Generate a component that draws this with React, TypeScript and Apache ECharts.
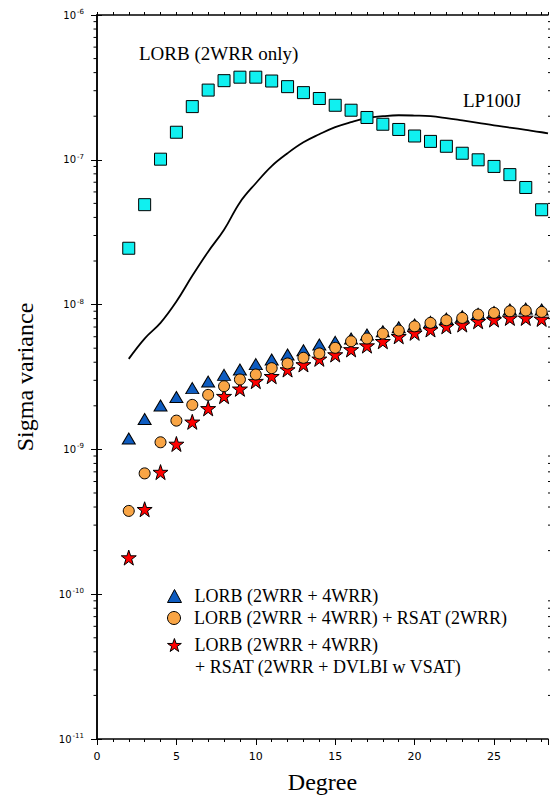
import React, { useEffect, useRef } from 'react';
import * as echarts from 'echarts';

// ---- data ----
const degrees = [2, 3, 4, 5, 6, 7, 8, 9, 10, 11, 12, 13, 14, 15, 16, 17, 18, 19, 20, 21, 22, 23, 24, 25, 26, 27, 28];

const lorb2wrrOnly = [2.45e-8, 4.9e-8, 1.01e-7, 1.55e-7, 2.33e-7, 3.03e-7, 3.52e-7, 3.72e-7, 3.72e-7, 3.5e-7, 3.2e-7, 2.91e-7, 2.65e-7, 2.38e-7, 2.2e-7, 1.96e-7, 1.76e-7, 1.62e-7, 1.46e-7, 1.34e-7, 1.24e-7, 1.11e-7, 1.0e-7, 9.0e-8, 7.9e-8, 6.44e-8, 4.52e-8];

const lorb2wrr4wrr = [1.19e-9, 1.62e-9, 2.01e-9, 2.3e-9, 2.65e-9, 2.94e-9, 3.27e-9, 3.56e-9, 3.88e-9, 4.18e-9, 4.52e-9, 4.84e-9, 5.3e-9, 5.53e-9, 5.83e-9, 6.21e-9, 6.55e-9, 6.98e-9, 7.28e-9, 7.6e-9, 8.0e-9, 8.3e-9, 8.63e-9, 8.9e-9, 9.24e-9, 9.38e-9, 9.24e-9];

const lorbRsat2wrr = [3.76e-10, 6.83e-10, 1.12e-9, 1.58e-9, 2.03e-9, 2.38e-9, 2.73e-9, 3.04e-9, 3.29e-9, 3.64e-9, 3.92e-9, 4.29e-9, 4.6e-9, 5.03e-9, 5.58e-9, 5.83e-9, 6.31e-9, 6.62e-9, 7.08e-9, 7.48e-9, 7.8e-9, 8.09e-9, 8.53e-9, 8.77e-9, 8.99e-9, 9.09e-9, 8.9e-9];

const lorbRsatDvlbi = [1.79e-10, 3.86e-10, 6.97e-10, 1.09e-9, 1.55e-9, 1.92e-9, 2.33e-9, 2.62e-9, 2.96e-9, 3.2e-9, 3.56e-9, 3.86e-9, 4.22e-9, 4.52e-9, 4.9e-9, 5.21e-9, 5.58e-9, 6.04e-9, 6.38e-9, 6.73e-9, 7.08e-9, 7.28e-9, 7.67e-9, 7.88e-9, 8.09e-9, 8.09e-9, 7.96e-9];

const lp100jDegrees = [2, 3, 4, 5, 6, 7, 8, 9, 10, 11, 12, 13, 14, 15, 16, 17, 18, 19, 20, 21, 22, 23, 24, 25, 26, 27, 28, 28.4];
const lp100j = [4.22e-9, 5.83e-9, 7.48e-9, 1.05e-8, 1.58e-8, 2.32e-8, 3.29e-8, 5.08e-8, 6.89e-8, 9.05e-8, 1.11e-7, 1.32e-7, 1.5e-7, 1.68e-7, 1.82e-7, 1.94e-7, 2.0e-7, 2.03e-7, 2.02e-7, 2.0e-7, 1.94e-7, 1.87e-7, 1.8e-7, 1.73e-7, 1.67e-7, 1.61e-7, 1.55e-7, 1.52e-7];

const X_MIN = 0;
const X_MAX = 28.4;
const Y_MIN = 1e-11;
const Y_MAX = 1e-6;
const decadeExponents = [-11, -10, -9, -8, -7];
const logMinorMultipliers = [2, 3, 4, 5, 6, 7, 8, 9];

const NAME_TRI = 'LORB (2WRR + 4WRR)';
const NAME_CIR = 'LORB (2WRR + 4WRR) + RSAT (2WRR)';
const NAME_STAR = 'LORB (2WRR + 4WRR) + RSAT (2WRR + DVLBI w VSAT)';

const STAR =
  'path://M50,2 L61.8,36.2 L97.6,36.2 L68.6,57.4 L79.4,91.6 L50,70.4 L20.6,91.6 L31.4,57.4 L2.4,36.2 L38.2,36.2 Z';

const SERIF = '"Liberation Serif", "Times New Roman", serif';
const SANS = '"DejaVu Sans", sans-serif';

const pair = (xs: number[], ys: number[]) => xs.map((x, i) => [x, ys[i]]);

export default function App() {
  const ref = useRef<HTMLDivElement>(null);

  useEffect(() => {
    if (!ref.current) return;
    const chart = echarts.init(ref.current, undefined, { renderer: 'svg' });

    const minorTickData: number[][] = [];
    decadeExponents.forEach((e) => {
      logMinorMultipliers.forEach((m) => {
        minorTickData.push([X_MIN, m * Math.pow(10, e)]);
      });
    });

    const legendText = {
      fontFamily: SERIF,
      fontSize: 18,
      color: '#000',
      padding: [0, 0, 0, 8],
    };
    const legendCommon = {
      orient: 'vertical',
      itemWidth: 14,
      itemHeight: 13,
      itemStyle: { borderColor: '#000', borderWidth: 1 },
      textStyle: legendText,
      selectedMode: false,
    };

    const option: any = {
      animation: false,
      backgroundColor: '#fff',
      grid: { left: 97, top: 15, right: 2, bottom: 59, containLabel: false, outerBoundsMode: 'none' },
      xAxis: [
        {
          type: 'value',
          position: 'bottom',
          min: X_MIN,
          max: X_MAX,
          interval: 1,
          name: 'Degree',
          nameLocation: 'middle',
          nameGap: 31,
          nameMoveOverlap: false,
          nameTextStyle: { fontFamily: SERIF, fontSize: 24, color: '#000' },
          axisLine: { show: true, lineStyle: { color: '#000', width: 1.5 } },
          axisTick: { show: true, inside: false, length: 3, lineStyle: { color: '#000', width: 1 } },
          axisLabel: {
            interval: 0,
            margin: 12,
            fontFamily: SANS,
            fontSize: 11,
            color: '#000',
            formatter: (v: number) => (Math.abs(v % 5) < 1e-9 ? String(v) : ''),
          },
          splitLine: { show: false },
        },
        {
          type: 'value',
          position: 'top',
          min: X_MIN,
          max: X_MAX,
          interval: 1,
          axisLine: { show: true, lineStyle: { color: '#000', width: 1.5 } },
          axisTick: { show: true, inside: false, length: 3, lineStyle: { color: '#000', width: 1 } },
          axisLabel: { show: false },
          splitLine: { show: false },
        },
        {
          type: 'value',
          position: 'bottom',
          min: X_MIN,
          max: X_MAX,
          interval: 5,
          axisLine: { show: false },
          axisTick: { show: true, inside: false, length: 6, lineStyle: { color: '#000', width: 1 } },
          axisLabel: { show: false },
          splitLine: { show: false },
        },
      ],
      yAxis: [
        {
          type: 'log',
          logBase: 10,
          position: 'left',
          min: Y_MIN,
          max: Y_MAX,
          splitNumber: 5,
          name: 'Sigma variance',
          nameLocation: 'middle',
          nameGap: 60,
          nameMoveOverlap: false,
          nameTextStyle: { fontFamily: SERIF, fontSize: 24, color: '#000' },
          axisLine: { show: true, lineStyle: { color: '#000', width: 1.5 } },
          axisTick: { show: true, inside: false, length: 6, lineStyle: { color: '#000', width: 1 } },
          axisLabel: {
            margin: 13,
            formatter: (v: number) => `{b|10}{s|${Math.round(Math.log10(v))}}`,
            rich: {
              b: { fontFamily: SANS, fontSize: 10, color: '#000' },
              s: { fontFamily: SANS, fontSize: 7, color: '#000', padding: [0, 0, 6, 1] },
            },
          },
          splitLine: { show: false },
        },
        {
          type: 'log',
          logBase: 10,
          position: 'right',
          min: Y_MIN,
          max: Y_MAX,
          splitNumber: 5,
          axisLine: { show: true, lineStyle: { color: '#000', width: 1.5 } },
          axisTick: { show: true, inside: false, length: 5, lineStyle: { color: '#000', width: 1 } },
          axisLabel: { show: false },
          splitLine: { show: false },
        },
      ],
      legend: [
        { ...legendCommon, left: 162, top: 582, data: [NAME_TRI] },
        { ...legendCommon, left: 162, top: 604, data: [NAME_CIR] },
        {
          ...legendCommon,
          left: 162,
          top: 631,
          data: [NAME_STAR],
          formatter: () => 'LORB (2WRR + 4WRR)',
        },
      ],
      graphic: [
        {
          type: 'text',
          x: 139,
          y: 53,
          style: {
            text: 'LORB (2WRR only)',
            fontFamily: SERIF,
            fontSize: 19,
            fill: '#000',
            align: 'left',
            verticalAlign: 'middle',
          },
        },
        {
          type: 'text',
          x: 463,
          y: 100,
          style: {
            text: 'LP100J',
            fontFamily: SERIF,
            fontSize: 19,
            fill: '#000',
            align: 'left',
            verticalAlign: 'middle',
          },
        },
        {
          type: 'text',
          x: 195,
          y: 667,
          style: {
            text: '+ RSAT (2WRR + DVLBI w VSAT)',
            fontFamily: SERIF,
            fontSize: 18,
            fill: '#000',
            align: 'left',
            verticalAlign: 'middle',
          },
        },
      ],
      series: [
        {
          type: 'custom',
          name: 'minorTicks',
          silent: true,
          clip: false,
          z: 5,
          data: minorTickData,
          renderItem: (params: any, api: any) => {
            const v = api.value(1);
            const pL = api.coord([X_MIN, v]);
            const pR = api.coord([X_MAX, v]);
            return {
              type: 'group',
              children: [
                {
                  type: 'line',
                  shape: { x1: pL[0] - 3.5, y1: pL[1], x2: pL[0], y2: pL[1] },
                  style: { stroke: '#000', lineWidth: 1 },
                },
                {
                  type: 'line',
                  shape: { x1: pR[0], y1: pR[1], x2: pR[0] + 3.5, y2: pR[1] },
                  style: { stroke: '#000', lineWidth: 1 },
                },
              ],
            };
          },
        },
        {
          type: 'line',
          name: 'LP100J',
          data: pair(lp100jDegrees, lp100j),
          showSymbol: false,
          symbol: 'none',
          smooth: 0.4,
          lineStyle: { color: '#000', width: 1.8 },
          z: 2,
        },
        {
          type: 'scatter',
          name: 'LORB (2WRR only)',
          data: pair(degrees, lorb2wrrOnly),
          symbol: 'rect',
          symbolSize: 12,
          itemStyle: { color: '#10F0F0', borderColor: '#000', borderWidth: 1, opacity: 1 },
          z: 3,
        },
        {
          type: 'scatter',
          name: NAME_TRI,
          data: pair(degrees, lorb2wrr4wrr),
          symbol: 'triangle',
          symbolSize: [13, 11],
          itemStyle: { color: '#0E5CC0', borderColor: '#000', borderWidth: 1, opacity: 1 },
          z: 3,
        },
        {
          type: 'scatter',
          name: NAME_STAR,
          data: pair(degrees, lorbRsatDvlbi),
          symbol: STAR,
          symbolSize: 15,
          itemStyle: { color: '#FF0000', borderColor: '#000', borderWidth: 1, opacity: 1 },
          z: 4,
        },
        {
          type: 'scatter',
          name: NAME_CIR,
          data: pair(degrees, lorbRsat2wrr),
          symbol: 'circle',
          symbolSize: 11,
          itemStyle: { color: '#F9A545', borderColor: '#000', borderWidth: 1, opacity: 1 },
          z: 4,
        },
      ],
    };

    chart.setOption(option);
    return () => chart.dispose();
  }, []);

  return (
    <div
      ref={ref}
      style={{ position: 'absolute', left: 0, top: 0, width: 550, height: 798, background: '#fff' }}
    />
  );
}
